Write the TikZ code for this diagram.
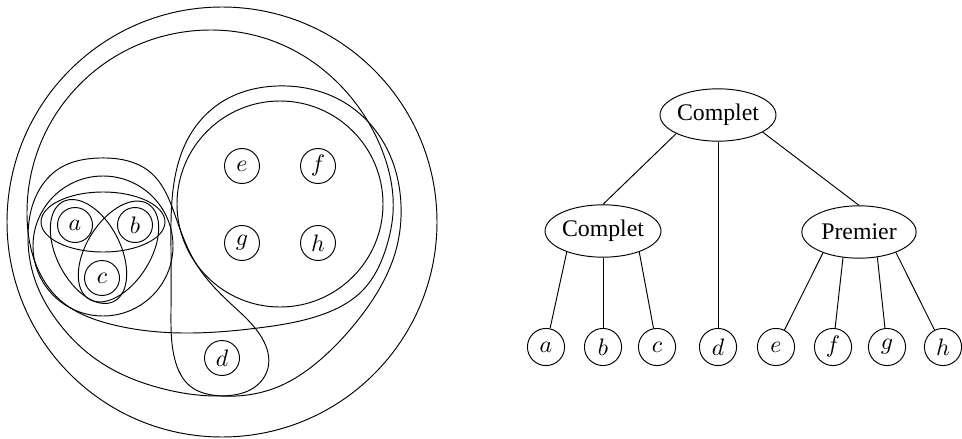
\documentclass[tikz,border=0pt]{standalone}
\usepackage{fontspec}
\setmainfont{Liberation Serif}
\usetikzlibrary{shapes,hobby}

\begin{document}
\begin{tikzpicture}[x=0.42pt, y=-0.42pt, auto]
      \tikzstyle{vertex} = [circle, draw, inner sep=0pt, minimum size=14.7pt]
      \tikzstyle{leaf} = [circle, draw, inner sep=0pt, minimum size=15.6pt]
      \tikzstyle{module} = [ellipse, draw, inner sep=0pt, minimum width=48pt, minimum height=22pt]
      \tikzstyle{edge} = [draw]
      \tikzstyle{blob} = [draw, use Hobby shortcut, closed=true]
        \useasboundingbox (0,0) rectangle (962,439);
        % the modules, drawn as sets
        \draw (222,222) circle (215);
        \path [blob] (393,213) .. (382,150) .. (339,84) .. (273,41) .. (210,30) .. (133,47) .. (70,95) .. (38,150) .. (27,213) .. (35,262) .. (60,300) .. (110,324) .. (183,333) .. (258,328) .. (318,316) .. (363,290) .. (387,245);
        \path [blob] (277,86) .. (340,100) .. (385,145) .. (401,205) .. (396,250) .. (381,286) .. (358,320) .. (320,360) .. (280,386) .. (222,396) .. (190,386) .. (175,360) .. (171,310) .. (171,250) .. (173,190) .. (190,135) .. (225,100);
        \draw (280,204) circle (103);
        \path [blob] (100,158) .. (150,172) .. (175,215) .. (195,262) .. (230,303) .. (262,338) .. (268,368) .. (250,390) .. (220,396) .. (160,388) .. (100,362) .. (58,322) .. (35,280) .. (28,235) .. (38,192) .. (60,168);
        \draw (103,246) circle (70);
        \draw (103,222) ellipse (62 and 30);
        \draw [rotate around={-63:(88.5,251.5)}] (88.5,251.5) ellipse (56 and 32);
        \draw [rotate around={58:(118.5,251.5)}] (118.5,251.5) ellipse (56 and 32);
        \node [vertex] (va) at (75,225) {$a$};
        \node [vertex] (vb) at (135,225) {$b$};
        \node [vertex] (vc) at (102,278) {$c$};
        \node [vertex] (vd) at (222,358) {$d$};
        \node [vertex] (ve) at (242,166) {$e$};
        \node [vertex] (vf) at (318,166) {$f$};
        \node [vertex] (vg) at (242,243) {$g$};
        \node [vertex] (vh) at (318,243) {$h$};
        % the decomposition tree
        \node [module] (top) at (718,115) {Complet};
        \node [module] (cpl) at (603,231) {Complet};
        \node [module] (prm) at (859,232) {Premier};
        \node [leaf] (ta) at (546,347) {$a$};
        \node [leaf] (tb) at (603,347) {$b$};
        \node [leaf] (tc) at (657,347) {$c$};
        \node [leaf] (td) at (718,347) {$d$};
        \node [leaf] (te) at (776,347) {$e$};
        \node [leaf] (tf) at (833,347) {$f$};
        \node [leaf] (tg) at (887,347) {$g$};
        \node [leaf] (th) at (943,347) {$h$};
        \path [edge] (top.204) -- (cpl.north);
        \path [edge] (top.south) -- (td);
        \path [edge] (top.339) -- (prm.north);
        \path [edge] (cpl.210) -- (ta);
        \path [edge] (cpl.south) -- (tb);
        \path [edge] (cpl.330) -- (tc);
        \path [edge] (prm.210) -- (te);
        \path [edge] (prm.238) -- (tf);
        \path [edge] (prm.306) -- (tg);
        \path [edge] (prm.331) -- (th);
\end{tikzpicture}
\end{document}
